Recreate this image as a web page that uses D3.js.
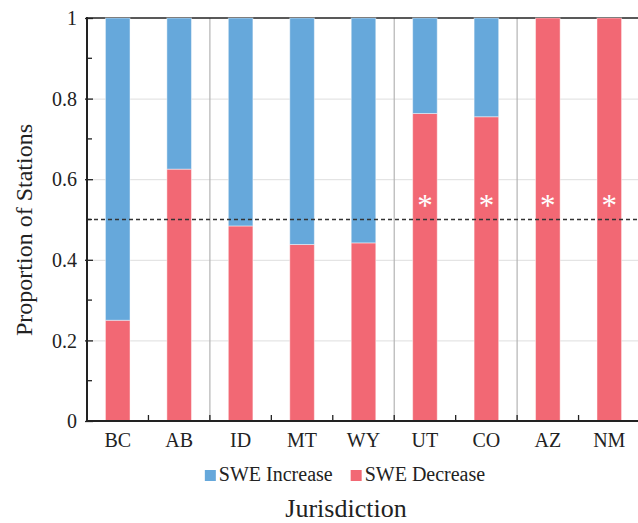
<!DOCTYPE html>
<html lang="en">
<head>
  <meta charset="UTF-8"/>
  <title>SWE trend by jurisdiction</title>
  <script src="https://d3js.org/d3.v7.min.js"></script>
  <style>
    body { margin: 0; background: #fff; }
    .grid line { stroke: #dedede; stroke-width: 1; }
    .grid path { display: none; }
  </style>
</head>
<body>
<div id="container"><svg width="638" height="523"></svg></div>
<script>
// data
const jurisdictions = ['BC', 'AB', 'ID', 'MT', 'WY', 'UT', 'CO', 'AZ', 'NM']
const sweDecrease = [0.25, 0.625, 0.484, 0.438, 0.442, 0.763, 0.755, 1, 1]
const significant = [false, false, false, false, false, true, true, true, true]
const groupBreaks = ['ID', 'UT', 'AZ']   // first member of each region group
const yTicks = [0, 0.2, 0.4, 0.6, 0.8, 1]

const seriesNames = ['SWE Increase', 'SWE Decrease']
const colors = { 'SWE Increase': '#66a8db', 'SWE Decrease': '#f26874' }
const FONT = "'Liberation Serif'"

function drawChart() {
  const svg = d3.select('svg')
  const left = 87, right = 638, top = 18, bottom = 421

  const xScale = d3.scaleBand()
    .domain(jurisdictions)
    .range([left, right + 2])
    .paddingInner(0.6)
    .paddingOuter(0.3)

  const step = xScale.step()
  const xStart = left

  const yScale = d3.scaleLinear()
    .domain([0, 1])
    .range([bottom, top])

  // horizontal grid
  svg.append('g')
    .attr('class', 'grid')
    .attr('transform', `translate(${left}, 0)`)
    .call(d3.axisLeft(yScale)
      .tickValues([0.2, 0.4, 0.6, 0.8])
      .tickSize(-(right - left))
      .tickFormat(''))

  // region separators
  svg.append('g')
    .selectAll('line')
    .data(groupBreaks)
    .enter()
    .append('line')
    .attr('x1', (d) => xStart + jurisdictions.indexOf(d) * step)
    .attr('x2', (d) => xStart + jurisdictions.indexOf(d) * step)
    .attr('y1', top)
    .attr('y2', bottom)
    .attr('stroke', '#b4b4b4')
    .attr('stroke-width', 1.2)

  // top frame line
  svg.append('line')
    .attr('x1', left).attr('x2', right)
    .attr('y1', yScale(1)).attr('y2', yScale(1))
    .attr('stroke', '#222').attr('stroke-width', 1.5)

  const rows = jurisdictions.map((j, i) => ({
    name: j,
    'SWE Decrease': sweDecrease[i],
    'SWE Increase': 1 - sweDecrease[i]
  }))

  const stack = d3.stack().keys(['SWE Decrease', 'SWE Increase'])(rows)

  const barGroups = svg.append('g')
    .selectAll('g')
    .data(stack)
    .enter()
    .append('g')
    .attr('fill', (s) => colors[s.key])

  barGroups.selectAll('rect')
    .data((s) => s)
    .enter()
    .append('rect')
    .attr('x', (d) => xScale(d.data.name))
    .attr('width', xScale.bandwidth())
    .attr('y', (d) => yScale(d[1]))
    .attr('height', (d) => yScale(d[0]) - yScale(d[1]))
    .attr('stroke', 'rgba(255,255,255,0.45)')
    .attr('stroke-width', 1)

  // 50% reference line
  svg.append('line')
    .attr('x1', left).attr('x2', right)
    .attr('y1', yScale(0.5)).attr('y2', yScale(0.5))
    .attr('stroke', '#333')
    .attr('stroke-width', 1.3)
    .attr('stroke-dasharray', '4,3')

  // significance asterisks
  svg.append('g')
    .selectAll('text')
    .data(jurisdictions.filter((j, i) => significant[i]))
    .enter()
    .append('text')
    .attr('x', (d) => xScale(d) + xScale.bandwidth() / 2)
    .attr('y', yScale(0.5) - 4)
    .attr('text-anchor', 'middle')
    .style('font-family', FONT)
    .style('font-size', '31px')
    .style('fill', '#fff')
    .text('*')

  // y axis
  const yAxis = svg.append('g')
    .attr('transform', `translate(${left}, 0)`)
    .call(d3.axisLeft(yScale)
      .tickValues(yTicks)
      .tickSize(2)
      .tickPadding(8)
      .tickFormat((d) => d))
  yAxis.select('.domain').remove()
  yAxis.selectAll('text')
    .style('font-family', FONT)
    .style('font-size', '20px')
    .style('fill', '#222')
    .attr('dy', '0.33em')
  yAxis.selectAll('.tick line').attr('x2', 6).attr('x1', -2).attr('stroke', '#222').attr('stroke-width', 1.3)

  // minor ticks
  svg.append('g')
    .selectAll('line')
    .data([0.1, 0.3, 0.5, 0.7, 0.9])
    .enter()
    .append('line')
    .attr('x1', left).attr('x2', left + 5)
    .attr('y1', (d) => yScale(d)).attr('y2', (d) => yScale(d))
    .attr('stroke', '#222').attr('stroke-width', 1.3)

  svg.append('line')
    .attr('x1', left).attr('x2', left)
    .attr('y1', top - 1).attr('y2', bottom + 1)
    .attr('stroke', '#222').attr('stroke-width', 2)

  // x axis
  const xAxis = svg.append('g')
    .attr('transform', `translate(0, ${bottom})`)
    .call(d3.axisBottom(xScale).tickSize(0).tickPadding(12))
  xAxis.select('.domain').remove()
  xAxis.selectAll('text')
    .style('font-family', FONT)
    .style('font-size', '20px')
    .style('fill', '#222')

  svg.append('g')
    .selectAll('line')
    .data(d3.range(1, jurisdictions.length))
    .enter()
    .append('line')
    .attr('x1', (i) => xStart + i * step)
    .attr('x2', (i) => xStart + i * step)
    .attr('y1', bottom).attr('y2', bottom - 6)
    .attr('stroke', '#222').attr('stroke-width', 1.3)

  svg.append('line')
    .attr('x1', left - 1).attr('x2', right)
    .attr('y1', bottom).attr('y2', bottom)
    .attr('stroke', '#222').attr('stroke-width', 2)

  // legend
  const legend = svg.append('g')
  let lx = 0
  seriesNames.forEach((name) => {
    legend.append('rect')
      .attr('x', lx).attr('y', 470)
      .attr('width', 11).attr('height', 11)
      .attr('fill', colors[name])
    const t = legend.append('text')
      .attr('x', lx + 14).attr('y', 481)
      .style('font-family', FONT)
      .style('font-size', '20px')
      .style('fill', '#222')
      .text(name)
    lx += 14 + t.node().getComputedTextLength() + 18
  })
  const legendWidth = lx - 18
  legend.attr('transform', `translate(${345 - legendWidth / 2}, 0)`)

  svg.append('text')
    .attr('x', 346)
    .attr('y', 517)
    .attr('text-anchor', 'middle')
    .style('font-family', FONT)
    .style('font-size', '26px')
    .style('fill', '#222')
    .text('Jurisdiction')

  svg.append('text')
    .attr('transform', 'rotate(-90)')
    .attr('x', -230)
    .attr('y', 32)
    .attr('text-anchor', 'middle')
    .style('font-family', FONT)
    .style('font-size', '24px')
    .style('fill', '#222')
    .text('Proportion of Stations')
}
drawChart()
</script>
</body>
</html>
